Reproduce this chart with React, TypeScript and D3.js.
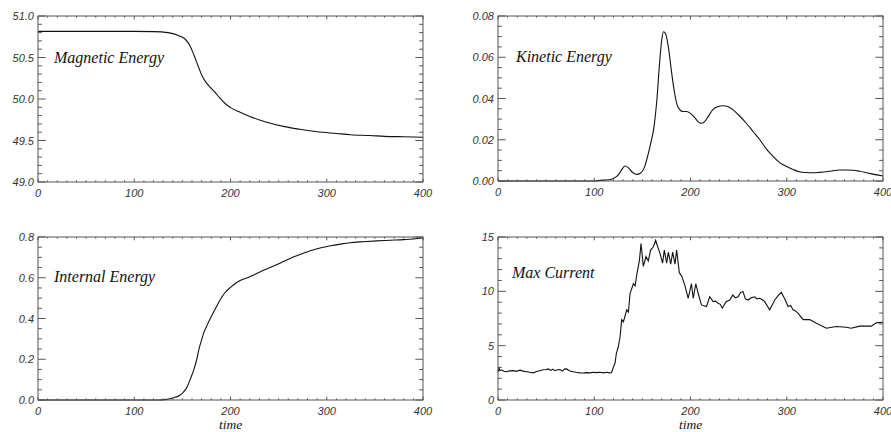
import React from "react";
import * as d3 from "d3";

const magT = [0, 100, 120, 135, 147, 153, 158, 162, 166, 170, 174, 179, 184, 189, 195, 201, 210, 220, 235, 255, 272, 290, 310, 325, 345, 360, 380, 400];
const magV = [50.815, 50.815, 50.812, 50.8, 50.76, 50.72, 50.64, 50.53, 50.41, 50.29, 50.21, 50.14, 50.08, 50.01, 49.94, 49.89, 49.84, 49.79, 49.73, 49.67, 49.635, 49.605, 49.585, 49.57, 49.56, 49.55, 49.545, 49.54];

const kinT = [0, 100, 106, 115, 120, 125, 129, 132, 135, 139, 144, 148, 152, 156, 159, 162, 165, 168, 170, 172, 174, 177, 180, 183, 186, 189, 192, 196, 200, 204, 208, 211, 214, 218, 223, 228, 234, 238, 244, 250, 258, 265, 272, 280, 286, 293, 300, 307, 313, 320, 327, 334, 341, 348, 355, 362, 369, 376, 383, 392, 400];
const kinV = [0, 0, 0.0003, 0.0006, 0.0012, 0.003, 0.0058, 0.0073, 0.0066, 0.0045, 0.0032, 0.0038, 0.0065, 0.013, 0.019, 0.026, 0.039, 0.058, 0.068, 0.0724, 0.0715, 0.065, 0.054, 0.044, 0.037, 0.0345, 0.0337, 0.0337, 0.0328, 0.031, 0.0287, 0.028, 0.0285, 0.031, 0.0345, 0.036, 0.0365, 0.0362, 0.0346, 0.032, 0.028, 0.024, 0.02, 0.0148, 0.0118, 0.0088, 0.007, 0.0055, 0.0045, 0.0041, 0.004, 0.0042, 0.0045, 0.005, 0.0053, 0.0053, 0.0052, 0.0047, 0.004, 0.0031, 0.0024];

const intT = [0, 125, 132, 140, 147, 151, 155, 158, 162, 165, 167, 170, 172, 176, 179, 184, 189, 194, 200, 205, 210, 220, 230, 241, 252, 262, 273, 283, 293, 304, 314, 324, 338, 352, 366, 380, 390, 400];
const intV = [0, 0, 0.002, 0.01, 0.022, 0.038, 0.065, 0.1, 0.15, 0.2, 0.245, 0.295, 0.327, 0.37, 0.4, 0.445, 0.49, 0.525, 0.553, 0.572, 0.586, 0.605, 0.627, 0.65, 0.673, 0.695, 0.715, 0.733, 0.746, 0.757, 0.765, 0.772, 0.777, 0.781, 0.784, 0.787, 0.79, 0.795];

const curT = [0, 1, 2, 3.8, 6, 9, 12, 16, 19, 22.9, 26, 29.8, 33, 36.7, 40, 43.6, 47, 50, 52.3, 55, 57, 59, 62, 64.4, 67, 69, 71.3, 74, 78, 81, 85, 89, 92, 95.5, 99, 102, 106, 110, 113, 116, 118, 119.8, 121.6, 123, 125, 126.8, 128.5, 130.3, 133.8, 135.5, 137.2, 140.7, 142.5, 144.1, 147, 148.6, 151, 153.8, 156.2, 158.6, 161.4, 163.8, 165.9, 168.3, 171, 172.8, 175.2, 177, 179.4, 181.5, 183.9, 185.6, 188.4, 190.9, 194.3, 197.6, 201, 202.8, 205.5, 208, 211.4, 216.6, 220, 223.5, 226, 228.7, 231, 233, 237, 240.8, 244, 246.5, 249.5, 252, 254.6, 257, 259.8, 263, 266.8, 269, 272, 275, 277, 282.3, 287.5, 291, 294.4, 298, 301.4, 304, 306.5, 309, 311.7, 317, 323.9, 330.8, 341.2, 351.5, 362, 367, 375.8, 387.9, 393, 400];
const curV = [2.6, 2.95, 2.7, 2.78, 2.65, 2.6, 2.68, 2.7, 2.64, 2.75, 2.66, 2.6, 2.55, 2.5, 2.62, 2.7, 2.78, 2.8, 2.86, 2.72, 2.84, 2.7, 2.78, 2.8, 2.66, 2.84, 2.86, 2.7, 2.6, 2.55, 2.5, 2.48, 2.52, 2.5, 2.55, 2.52, 2.55, 2.5, 2.55, 2.5, 2.53, 3.0, 3.4, 4.3, 4.9, 5.8, 7.4, 7.2, 8.3, 8.1, 9.8, 10.7, 10.5, 11.5, 12.9, 14.4, 12.3, 13.2, 12.8, 13.8, 14.1, 14.7, 14.1, 13.5, 12.6, 13.8, 12.6, 13.6, 12.5, 13.6, 12.5, 13.8, 11.7, 11.4, 10.5, 9.36, 10.7, 9.36, 10.7, 9.8, 8.75, 8.6, 9.5, 9.05, 9.1, 8.9, 8.8, 8.45, 9.05, 9.2, 9.66, 9.4, 9.5, 9.9, 9.97, 9.3, 9.2, 9.4, 9.5, 9.3, 9.36, 9.2, 9.05, 8.3, 9.2, 9.6, 9.9, 9.3, 8.6, 8.7, 8.3, 8.2, 8.0, 7.4, 7.4, 7.06, 6.6, 6.76, 6.7, 6.6, 6.8, 6.8, 7.1, 7.15];

const xTicks = [0, 100, 200, 300, 400];
const magTicks = ["51.0", "50.5", "50.0", "49.5", "49.0"];
const kinTicks = ["0.08", "0.06", "0.04", "0.02", "0.00"];
const intTicks = ["0.8", "0.6", "0.4", "0.2", "0.0"];
const curTicks = ["15", "10", "5", "0"];

type PanelProps = {
  x0: number; x1: number; y0: number; y1: number;
  domain: [number, number]; ticks: string[]; minor: number;
  t: number[]; v: number[]; label: string; lx: number; ly: number;
  smooth: boolean; timeLabel: boolean;
};

function Panel(p: PanelProps) {
  const xs = d3.scaleLinear().domain([0, 400]).range([p.x0, p.x1]);
  const ys = d3.scaleLinear().domain(p.domain).range([p.y1, p.y0]);
  const w = p.x1 - p.x0;
  const h = p.y1 - p.y0;
  const yLen = 0.02 * w;
  const xLen = 0.02 * h;
  const tickVals = p.ticks.map(Number);
  const step = Math.abs(tickVals[0] - tickVals[1]) / p.minor;
  const minorY: number[] = [];
  const [lo, hi] = p.domain;
  for (let k = 0; lo + k * step <= hi + 1e-9; k++) minorY.push(lo + k * step);
  const minorX = d3.range(0, 401, 10);
  const pts = p.t.map((t, i) => [t, p.v[i]] as [number, number]);
  const line = d3.line<[number, number]>()
    .x(d => xs(d[0])).y(d => ys(d[1]))
    .curve(p.smooth ? d3.curveMonotoneX : d3.curveLinear);
  const ax = "#555";
  return (
    <g>
      <path d={line(pts) || ""} fill="none" stroke="#111" strokeWidth={1.1} />
      <rect x={p.x0} y={p.y0} width={w} height={h} fill="none" stroke={ax} strokeWidth={1} />
      {minorX.map(t => {
        const major = t % 100 === 0;
        const L = major ? xLen : xLen / 2;
        return (
          <g key={"x" + t}>
            <line x1={xs(t)} x2={xs(t)} y1={p.y1} y2={p.y1 - L} stroke={ax} />
            <line x1={xs(t)} x2={xs(t)} y1={p.y0} y2={p.y0 + L} stroke={ax} />
          </g>
        );
      })}
      {minorY.map((v, i) => {
        const major = i % p.minor === 0;
        const L = major ? yLen : yLen / 2;
        return (
          <g key={"y" + i}>
            <line x1={p.x0} x2={p.x0 + L} y1={ys(v)} y2={ys(v)} stroke={ax} />
            <line x1={p.x1} x2={p.x1 - L} y1={ys(v)} y2={ys(v)} stroke={ax} />
          </g>
        );
      })}
      {p.ticks.map(s => (
        <text key={"yl" + s} x={p.x0 - 4} y={ys(Number(s)) + 4} textAnchor="end"
          fontFamily="Liberation Sans, Arial, sans-serif" fontStyle="italic" fontSize={11} fill="#333">{s}</text>
      ))}
      {xTicks.map(t => (
        <text key={"xl" + t} x={xs(t)} y={p.y1 + 14.5} textAnchor="middle"
          fontFamily="Liberation Sans, Arial, sans-serif" fontStyle="italic" fontSize={11} fill="#333">{t}</text>
      ))}
      <text x={p.lx} y={p.ly} fontFamily="Liberation Serif, Times New Roman, serif" fontStyle="italic" fontSize={16} fill="#111">{p.label}</text>
      {p.timeLabel && (
        <text x={(p.x0 + p.x1) / 2} y={p.y1 + 28.8} textAnchor="middle"
          fontFamily="Liberation Serif, Times New Roman, serif" fontStyle="italic" fontSize={13.5} fill="#111">time</text>
      )}
    </g>
  );
}

export default function App() {
  return (
    <svg width={891} height={432} style={{ position: "absolute", left: 0, top: 0, background: "#fff" }}>
      <rect width={891} height={432} fill="#fff" />
      <Panel x0={38} x1={423} y0={16} y1={182} domain={[49, 51]} ticks={magTicks} minor={5}
        t={magT} v={magV} label="Magnetic Energy" lx={54} ly={63} smooth timeLabel={false} />
      <Panel x0={498} x1={883} y0={16} y1={181} domain={[0, 0.08]} ticks={kinTicks} minor={4}
        t={kinT} v={kinV} label="Kinetic Energy" lx={516} ly={62} smooth timeLabel={false} />
      <Panel x0={38} x1={423} y0={237} y1={400} domain={[0, 0.8]} ticks={intTicks} minor={4}
        t={intT} v={intV} label="Internal Energy" lx={54} ly={282} smooth timeLabel />
      <Panel x0={498} x1={883} y0={237} y1={400} domain={[0, 15]} ticks={curTicks} minor={5}
        t={curT} v={curV} label="Max Current" lx={512} ly={278} smooth={false} timeLabel />
    </svg>
  );
}
